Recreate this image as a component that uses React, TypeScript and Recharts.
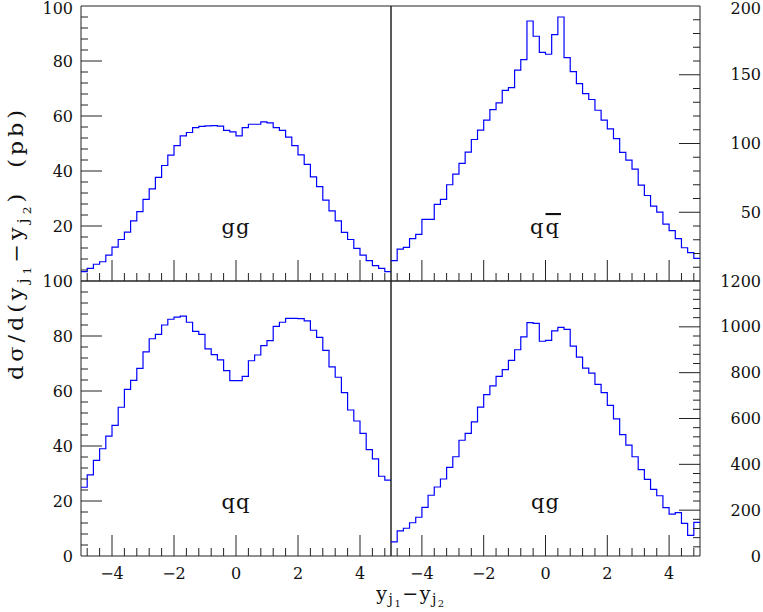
import React from 'react';
import { LineChart, Line, XAxis, YAxis, ReferenceArea } from 'recharts';

// 50 bins of width 0.2 in y_j1 - y_j2, from -5 to 5
const binEdges = Array.from({ length: 51 }, (_, i) => (-50 + i * 2) / 10);

// d sigma / d(y_j1 - y_j2), one value per bin
const ggValues = [
  3.4, 4.6, 6.1, 7.0, 9.4, 12.3, 15.1, 17.8, 21.9, 25.2,
  29.7, 33.5, 37.7, 42.0, 45.8, 49.2, 52.8, 54.0, 55.8, 56.2,
  56.4, 56.5, 56.3, 54.8, 54.2, 52.8, 55.8, 57.0, 57.0, 57.9,
  57.5, 55.8, 54.8, 52.3, 49.2, 45.9, 42.4, 37.9, 34.3, 29.4,
  25.5, 21.9, 17.7, 15.1, 11.9, 9.4, 7.4, 5.6, 4.6, 3.4,
];
const qqbarValues = [
  14.8, 23.2, 24.5, 30.8, 33.9, 44.8, 44.8, 55.7, 59.3, 70.0,
  77.7, 85.5, 93.7, 102.9, 109.7, 117.0, 124.7, 129.5, 138.7, 140.7,
  153.3, 161.0, 189.1, 178.0, 166.3, 164.9, 179.2, 192.0, 162.5, 152.3,
  143.6, 136.3, 132.0, 124.2, 117.0, 110.7, 103.6, 93.5, 87.9, 81.4,
  69.7, 62.2, 54.5, 50.1, 41.4, 36.6, 30.8, 24.2, 20.6, 16.5,
];
const qqValues = [
  25.0, 29.5, 34.8, 39.0, 43.6, 47.5, 54.1, 60.6, 63.9, 68.2,
  74.2, 79.0, 80.6, 84.0, 86.1, 86.9, 87.2, 85.0, 81.7, 80.6,
  75.3, 73.2, 71.3, 67.4, 63.8, 63.8, 65.3, 71.0, 73.1, 76.5,
  78.3, 83.5, 85.0, 86.4, 86.4, 86.3, 85.5, 82.1, 79.5, 74.8,
  68.8, 65.0, 59.4, 53.1, 49.1, 44.6, 38.7, 35.3, 29.0, 27.6,
];
const qgValues = [
  62, 110, 121, 145, 169, 212, 265, 301, 336, 387,
  433, 505, 535, 585, 650, 704, 742, 784, 813, 854,
  900, 956, 1018, 1015, 937, 941, 982, 998, 989, 916,
  868, 820, 798, 749, 713, 657, 598, 530, 484, 433,
  377, 334, 291, 263, 211, 183, 189, 142, 90, 147,
];

const xTicks = Array.from({ length: 25 }, (_, i) => (-48 + i * 4) / 10);
const xTickLabels = [-4, -2, 0, 2, 4];

const leftTicks = Array.from({ length: 26 }, (_, i) => i * 4);
const topRightTicks = Array.from({ length: 21 }, (_, i) => i * 10);
const bottomRightTicks = Array.from({ length: 31 }, (_, i) => i * 40);

const ggYLabels = [20, 40, 60, 80, 100];
const qqYLabels = [0, 20, 40, 60, 80, 100];
const qqbarYLabels = [50, 100, 150, 200];
const qgYLabels = [0, 200, 400, 600, 800, 1000, 1200];

const W = 763;
const H = 612;
const LEFT = 81;
const MIDX = 391;
const RIGHT = 700;
const TOP = 6;
const MIDY = 281;
const BOTTOM = 556;

const FONT = '"DejaVu Serif", serif';
const INK = '#222';

const fmt = (v: number) => (v < 0 ? '\u2212' + Math.abs(v) : String(v));

const makeXTick = (showLabels: boolean) => (props: any) => {
  const { x, y, payload } = props;
  const v = payload.value;
  const major = Math.abs(v % 2) < 1e-9;
  return (
    <g>
      <line x1={x} x2={x} y1={y} y2={y - (major ? 21 : 8)} stroke={INK} strokeWidth={1} />
      {showLabels && xTickLabels.includes(v) && (
        <text x={x} y={y + 17} textAnchor="middle" dominantBaseline="central"
          fontFamily={FONT} fontSize={16} fill="#111">{fmt(v)}</text>
      )}
    </g>
  );
};

const makeYTick = (side: 'left' | 'right', yMax: number, step: number, labels: number[], top: boolean) =>
  (props: any) => {
    const { x, y, payload } = props;
    const v = payload.value;
    const inside = v > 0 && v < yMax;
    const len = v % step === 0 ? 21 : 7;
    const dir = side === 'left' ? 1 : -1;
    // keep the uppermost label inside the page
    const ty = top && v === yMax ? y + 2 : y;
    return (
      <g>
        {inside && <line x1={x} x2={x + dir * len} y1={y} y2={y} stroke={INK} strokeWidth={1} />}
        {labels.includes(v) && (
          <text x={side === 'left' ? x - 8 : x + 61} y={ty} textAnchor="end" dominantBaseline="central"
            fontFamily={FONT} fontSize={16} fill="#111">{v}</text>
        )}
      </g>
    );
  };

type PanelProps = {
  values: number[];
  yMax: number;
  ticks: number[];
  step: number;
  labels: number[];
  side: 'left' | 'right';
  l: number;
  r: number;
  t: number;
  b: number;
  showX: boolean;
};

const Panel = ({ values, yMax, ticks, step, labels, side, l, r, t, b, showX }: PanelProps) => {
  const data = binEdges.map((x, i) => ({ x, v: values[Math.min(i, values.length - 1)] }));
  // axes take 1px each, so margins leave that out
  const margin = {
    top: t,
    left: side === 'left' ? l - 1 : l,
    right: side === 'right' ? W - r - 1 : W - r,
    bottom: H - b - 1,
  };
  return (
    <div style={{ position: 'absolute', left: 0, top: 0 }}>
      <LineChart width={W} height={H} data={data} margin={margin}>
        <XAxis dataKey="x" type="number" domain={[-5, 5]} ticks={xTicks} interval={0}
          height={1} tickSize={0} tickMargin={0} axisLine={false} tickLine={false}
          tick={makeXTick(showX)} />
        <YAxis orientation={side} type="number" domain={[0, yMax]} ticks={ticks} interval={0}
          width={1} tickSize={0} tickMargin={0} axisLine={false} tickLine={false}
          tick={makeYTick(side, yMax, step, labels, t === TOP)} />
        <ReferenceArea x1={-5} x2={5} y1={0} y2={yMax} fill="none" stroke={INK} strokeWidth={1} />
        <Line type="stepAfter" dataKey="v" stroke="#0000ff" strokeWidth={1.2} dot={false}
          isAnimationActive={false} />
      </LineChart>
    </div>
  );
};

const App = () => {
  const sub = 14;
  const subsub = 10;
  return (
    <div style={{ position: 'absolute', left: 0, top: 0, width: W, height: H, background: '#fff' }}>
      <Panel values={ggValues} yMax={100} ticks={leftTicks} step={20} labels={ggYLabels}
        side="left" l={LEFT} r={MIDX} t={TOP} b={MIDY} showX={false} />
      <Panel values={qqbarValues} yMax={200} ticks={topRightTicks} step={50} labels={qqbarYLabels}
        side="right" l={MIDX} r={RIGHT} t={TOP} b={MIDY} showX={false} />
      <Panel values={qqValues} yMax={100} ticks={leftTicks} step={20} labels={qqYLabels}
        side="left" l={LEFT} r={MIDX} t={MIDY} b={BOTTOM} showX={true} />
      <Panel values={qgValues} yMax={1200} ticks={bottomRightTicks} step={200} labels={qgYLabels}
        side="right" l={MIDX} r={RIGHT} t={MIDY} b={BOTTOM} showX={true} />
      <svg width={W} height={H} style={{ position: 'absolute', left: 0, top: 0 }}>
        <g fontFamily={FONT} fill="#111">
          <text x={(LEFT + MIDX) / 2} y={MIDY - 47} textAnchor="middle" fontSize={21} letterSpacing={1}>gg</text>
          <text x={(MIDX + RIGHT) / 2} y={MIDY - 47} textAnchor="middle" fontSize={21} letterSpacing={2}>
            q<tspan style={{ textDecoration: 'overline' }}>q</tspan>
          </text>
          <text x={(LEFT + MIDX) / 2} y={BOTTOM - 47} textAnchor="middle" fontSize={21} letterSpacing={1}>qq</text>
          <text x={(MIDX + RIGHT) / 2} y={BOTTOM - 47} textAnchor="middle" fontSize={21} letterSpacing={1}>qg</text>
          <text x={411} y={600} textAnchor="middle" fontSize={19} letterSpacing={1.5}>
            y<tspan fontSize={sub} dy={4}>j</tspan><tspan fontSize={subsub} dy={3}>1</tspan>
            <tspan fontSize={19} dy={-7}>{'\u2212'}y</tspan>
            <tspan fontSize={sub} dy={4}>j</tspan><tspan fontSize={subsub} dy={3}>2</tspan>
          </text>
          <text transform="translate(23,243) rotate(-90) scale(1.12,1)" x={0} y={0} textAnchor="middle"
            fontSize={20} letterSpacing={3.5}>
            d{'\u03c3'}/d(y<tspan fontSize={15} dy={5}>j</tspan><tspan fontSize={11} dy={3}>1</tspan>
            <tspan fontSize={20} dy={-8}>{'\u2212'}y</tspan>
            <tspan fontSize={15} dy={5}>j</tspan><tspan fontSize={11} dy={3}>2</tspan>
            <tspan fontSize={20} dy={-8}>){'\u00a0\u00a0'}(pb)</tspan>
          </text>
        </g>
      </svg>
    </div>
  );
};

export default App;
